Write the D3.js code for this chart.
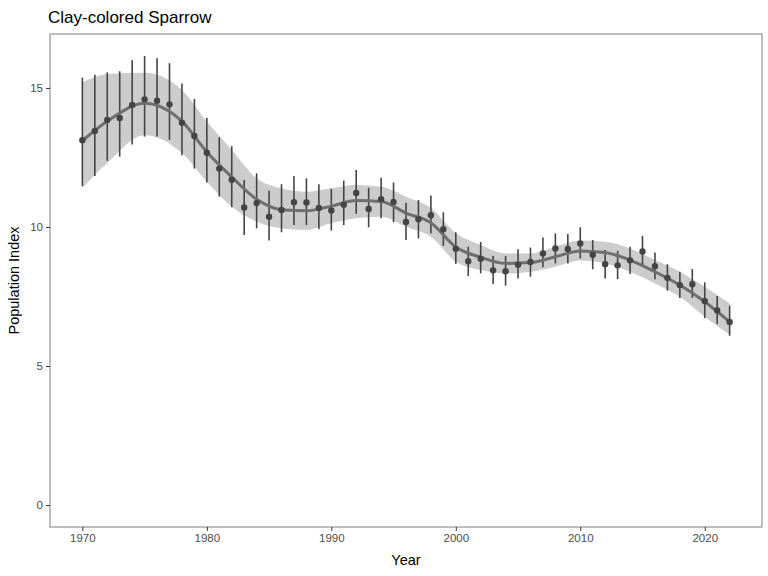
<!DOCTYPE html>
<html>
<head>
<meta charset="utf-8">
<script src="https://cdn.jsdelivr.net/npm/d3@7"></script>
<style>
  body { margin: 0; background: #fff; }
  text { font-family: "Liberation Sans", Arial, sans-serif; }
</style>
</head>
<body>
<svg id="chart" width="768" height="576"></svg>
<script>
// observed annual indices with 95% intervals
var years = d3.range(1970, 2023);
var index = [13.12, 13.45, 13.85, 13.92, 14.39, 14.59, 14.54, 14.41, 13.75, 13.27,
             12.67, 12.10, 11.70, 10.70, 10.86, 10.37, 10.61, 10.89, 10.88, 10.68,
             10.59, 10.80, 11.22, 10.65, 11.00, 10.90, 10.18, 10.28, 10.42, 9.92,
             9.22, 8.77, 8.86, 8.44, 8.41, 8.64, 8.74, 9.05, 9.23, 9.21,
             9.41, 9.00, 8.66, 8.62, 8.80, 9.12, 8.59, 8.17, 7.91, 7.94,
             7.34, 7.00, 6.58];
var upper = [15.37, 15.47, 15.56, 15.60, 16.00, 16.15, 16.07, 15.89, 15.16, 14.60,
             13.93, 13.23, 12.91, 11.69, 11.93, 11.30, 11.54, 11.83, 11.75, 11.54,
             11.37, 11.67, 12.05, 11.41, 11.77, 11.60, 10.87, 10.97, 11.13, 10.53,
             9.81, 9.29, 9.46, 8.96, 8.96, 9.20, 9.26, 9.62, 9.77, 9.75,
             9.99, 9.53, 9.17, 9.14, 9.29, 9.68, 9.08, 8.66, 8.39, 8.49,
             8.01, 7.52, 7.17];
var lower = [11.47, 11.83, 12.38, 12.53, 12.97, 13.25, 13.25, 13.13, 12.58, 12.10,
             11.60, 11.09, 10.71, 9.71, 9.95, 9.51, 9.81, 10.07, 10.07, 9.93,
             9.87, 10.07, 10.47, 9.99, 10.31, 10.17, 9.53, 9.59, 9.77, 9.32,
             8.67, 8.24, 8.33, 7.95, 7.89, 8.15, 8.21, 8.55, 8.69, 8.69,
             8.87, 8.48, 8.15, 8.12, 8.31, 8.63, 8.12, 7.71, 7.45, 7.45,
             6.72, 6.51, 6.09];

// smoothed trend with its band
var smoothYears = [1970, 1972, 1975, 1978, 1980, 1982, 1984, 1986, 1988, 1990, 1992, 1994,
                   1996, 1998, 2000, 2002, 2004, 2006, 2008, 2010, 2012, 2014, 2016, 2018, 2020, 2022];
var smoothFit = [13.10, 13.80, 14.45, 13.80, 12.70, 11.80, 11.00, 10.62, 10.58, 10.75, 10.95, 10.92,
                 10.50, 10.15, 9.28, 8.91, 8.69, 8.72, 8.93, 9.14, 9.08, 8.81, 8.39, 7.91, 7.31, 6.59];
var smoothHi = [15.20, 15.50, 15.55, 14.93, 13.79, 12.77, 11.75, 11.39, 11.27, 11.39, 11.51, 11.45,
                11.09, 10.68, 9.78, 9.35, 9.05, 9.05, 9.29, 9.51, 9.47, 9.23, 8.81, 8.39, 7.85, 7.25];
var smoothLo = [11.40, 12.30, 13.30, 12.66, 11.63, 10.73, 10.19, 9.95, 9.89, 10.13, 10.31, 10.37,
                10.01, 9.65, 8.75, 8.45, 8.33, 8.39, 8.57, 8.79, 8.69, 8.39, 7.97, 7.49, 6.77, 6.12];

var yTicks = [0, 5, 10, 15];
var xTicks = [1970, 1980, 1990, 2000, 2010, 2020];

var svg = d3.select("#chart");
var plotL = 50, plotR = 762, plotT = 34, plotB = 527;

var x = d3.scaleLinear().domain([1967.4, 2024.6]).range([plotL, plotR]);
var y = d3.scaleLinear().domain([-0.79, 16.94]).range([plotB, plotT]);

// title
svg.append("text").attr("x", 48).attr("y", 23)
    .attr("font-size", 17).attr("fill", "#000").text("Clay-colored Sparrow");

var obs = years.map(function(d, i) { return i; });
var sm = smoothYears.map(function(d, i) { return i; });

// band
svg.append("path")
    .datum(sm)
    .attr("fill", "#cccccc")
    .attr("d", d3.area().curve(d3.curveMonotoneX)
        .x(function(i) { return x(smoothYears[i]); })
        .y0(function(i) { return y(smoothLo[i]); })
        .y1(function(i) { return y(smoothHi[i]); }));

// error bars
svg.append("g").selectAll("line").data(obs).enter().append("line")
    .attr("x1", function(i) { return x(years[i]); })
    .attr("x2", function(i) { return x(years[i]); })
    .attr("y1", function(i) { return y(lower[i]); })
    .attr("y2", function(i) { return y(upper[i]); })
    .attr("stroke", "#444").attr("stroke-width", 1.6);

// trend line
svg.append("path")
    .datum(sm)
    .attr("fill", "none").attr("stroke", "#6e6e6e").attr("stroke-width", 3)
    .attr("d", d3.line().curve(d3.curveMonotoneX)
        .x(function(i) { return x(smoothYears[i]); })
        .y(function(i) { return y(smoothFit[i]); }));

// points
svg.append("g").selectAll("circle").data(obs).enter().append("circle")
    .attr("cx", function(i) { return x(years[i]); })
    .attr("cy", function(i) { return y(index[i]); })
    .attr("r", 3.2).attr("fill", "#444");

// panel border
svg.append("rect").attr("x", plotL).attr("y", plotT)
    .attr("width", plotR - plotL).attr("height", plotB - plotT)
    .attr("fill", "none").attr("stroke", "#7f7f7f").attr("stroke-width", 1);

// axes
var xAxis = svg.append("g").attr("transform", "translate(0," + plotB + ")")
    .call(d3.axisBottom(x).tickValues(xTicks).tickFormat(d3.format("d")).tickSize(4).tickPadding(3));
var yAxis = svg.append("g").attr("transform", "translate(" + plotL + ",0)")
    .call(d3.axisLeft(y).tickValues(yTicks).tickSize(4).tickPadding(3));
[xAxis, yAxis].forEach(function(a) {
    a.select(".domain").remove();
    a.selectAll("line").attr("stroke", "#333");
    a.selectAll("text").attr("fill", "#4d4d4d").attr("font-size", 11.5)
        .style("font-family", "'Liberation Sans', Arial, sans-serif");
});

svg.append("text").attr("x", (plotL + plotR) / 2).attr("y", 565)
    .attr("text-anchor", "middle").attr("font-size", 14.5).text("Year");
svg.append("text").attr("transform", "translate(19," + ((plotT + plotB) / 2) + ") rotate(-90)")
    .attr("text-anchor", "middle").attr("font-size", 14.5).text("Population Index");
</script>
</body>
</html>
